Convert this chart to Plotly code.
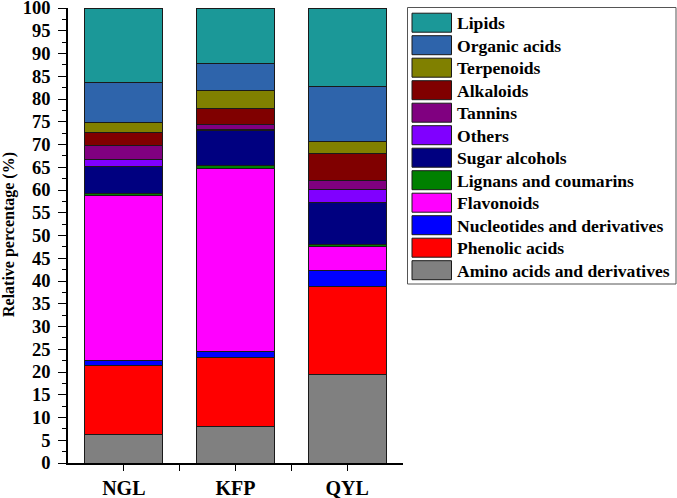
import plotly.graph_objects as go

samples = ["NGL", "KFP", "QYL"]

# stacking order bottom -> top
classes = ["Amino acids and derivatives", "Phenolic acids", "Nucleotides and derivatives",
           "Flavonoids", "Lignans and coumarins", "Sugar alcohols", "Others", "Tannins",
           "Alkaloids", "Terpenoids", "Organic acids", "Lipids"]

amino = [6.2, 8.1, 19.5]
phenolic = [15.2, 15.1, 19.4]
nucleotides = [1.2, 1.2, 3.3]
flavonoids = [36.3, 40.3, 5.4]
lignans = [0.3, 0.7, 0.4]
sugar_alcohols = [5.9, 7.6, 9.3]
others = [1.5, 0.4, 2.8]
tannins = [3.2, 0.9, 1.9]
alkaloids = [2.9, 3.7, 6.0]
terpenoids = [2.1, 3.8, 2.6]
organic_acids = [8.8, 6.1, 12.1]
lipids = [16.4, 12.1, 17.3]

values = [amino, phenolic, nucleotides, flavonoids, lignans, sugar_alcohols,
          others, tannins, alkaloids, terpenoids, organic_acids, lipids]

colors = ["#808080", "#ff0000", "#0000ff", "#ff00ff", "#008000", "#000080",
          "#8000ff", "#800080", "#800000", "#808000", "#2e64ab", "#1b9898"]

y_ticks = list(range(0, 101, 5))

FONT = "Liberation Serif, Times New Roman, serif"

fig = go.Figure()
xs = list(range(len(samples)))
for name, vals, col in zip(classes, values, colors):
    fig.add_trace(go.Bar(x=xs, y=vals, name=name, width=0.7,
                         marker=dict(color=col, line=dict(color="#1a1a1a", width=1)),
                         showlegend=False))

# plot area in pixels
L, R, T, B = 68, 403, 8, 463
W, H = 677, 498

def px2x(px):
    return (px - L) / (R - L)

def py2y(py):
    return (B - py) / (B - T)

# manual legend (top item = Lipids)
shapes = []
annotations = []
shapes.append(dict(type="rect", xref="paper", yref="paper",
                   x0=px2x(407.5), x1=px2x(676), y0=py2y(7.5), y1=py2y(284),
                   line=dict(color="#555555", width=1), fillcolor="white", layer="below"))
leg_names = classes[::-1]
leg_colors = colors[::-1]
for i, (n, c) in enumerate(zip(leg_names, leg_colors)):
    cy = 22.7 + i * 22.5
    shapes.append(dict(type="rect", xref="paper", yref="paper",
                       x0=px2x(412), x1=px2x(451.5), y0=py2y(cy - 9.5), y1=py2y(cy + 9.5),
                       line=dict(color="#1a1a1a", width=1), fillcolor=c))
    annotations.append(dict(xref="paper", yref="paper", x=px2x(455), y=py2y(cy + 0.5),
                            xanchor="left", yanchor="middle", text=n, showarrow=False,
                            font=dict(family=FONT, size=17.6, color="black", weight="bold")))

annotations.append(dict(xref="paper", yref="paper", x=px2x(9), y=py2y(235),
                        text="Relative percentage (%)", textangle=-90, showarrow=False,
                        xanchor="center", yanchor="middle",
                        font=dict(family=FONT, size=16, color="black", weight="bold")))

fig.update_layout(
    template="none",
    barmode="stack",
    width=W, height=H,
    margin=dict(l=L, r=W - R, t=T, b=H - B, pad=0),
    plot_bgcolor="white", paper_bgcolor="white",
    font=dict(family=FONT, color="black"),
    shapes=shapes, annotations=annotations,
    showlegend=False,
    xaxis=dict(range=[-0.5, 2.5], tickvals=xs, ticktext=samples, automargin=False,
               showline=True, linecolor="black", linewidth=1.5,
               ticks="outside", ticklen=6, tickwidth=1.2, tickcolor="black",
               minor=dict(tickvals=[0.5, 1.5], ticks="outside", ticklen=6,
                          tickwidth=1.2, tickcolor="black"),
               showgrid=False, zeroline=False, ticklabelstandoff=0,
               ticklabeloverflow="allow",
               tickfont=dict(family=FONT, size=20, color="black", weight="bold")),
    yaxis=dict(range=[0, 100], tickvals=y_ticks, automargin=False,
               showline=True, linecolor="black", linewidth=1.5,
               ticks="outside", ticklen=8, tickwidth=1.2, tickcolor="black",
               minor=dict(dtick=2.5, ticks="outside", ticklen=4, tickwidth=1,
                          tickcolor="black", showgrid=False),
               showgrid=False, zeroline=False, ticklabelstandoff=4,
               ticklabeloverflow="allow",
               tickfont=dict(family=FONT, size=18.5, color="black", weight="bold")),
)

fig.write_html("out.html", config={"displayModeBar": False},
               post_script="document.body.style.margin='0px';")
